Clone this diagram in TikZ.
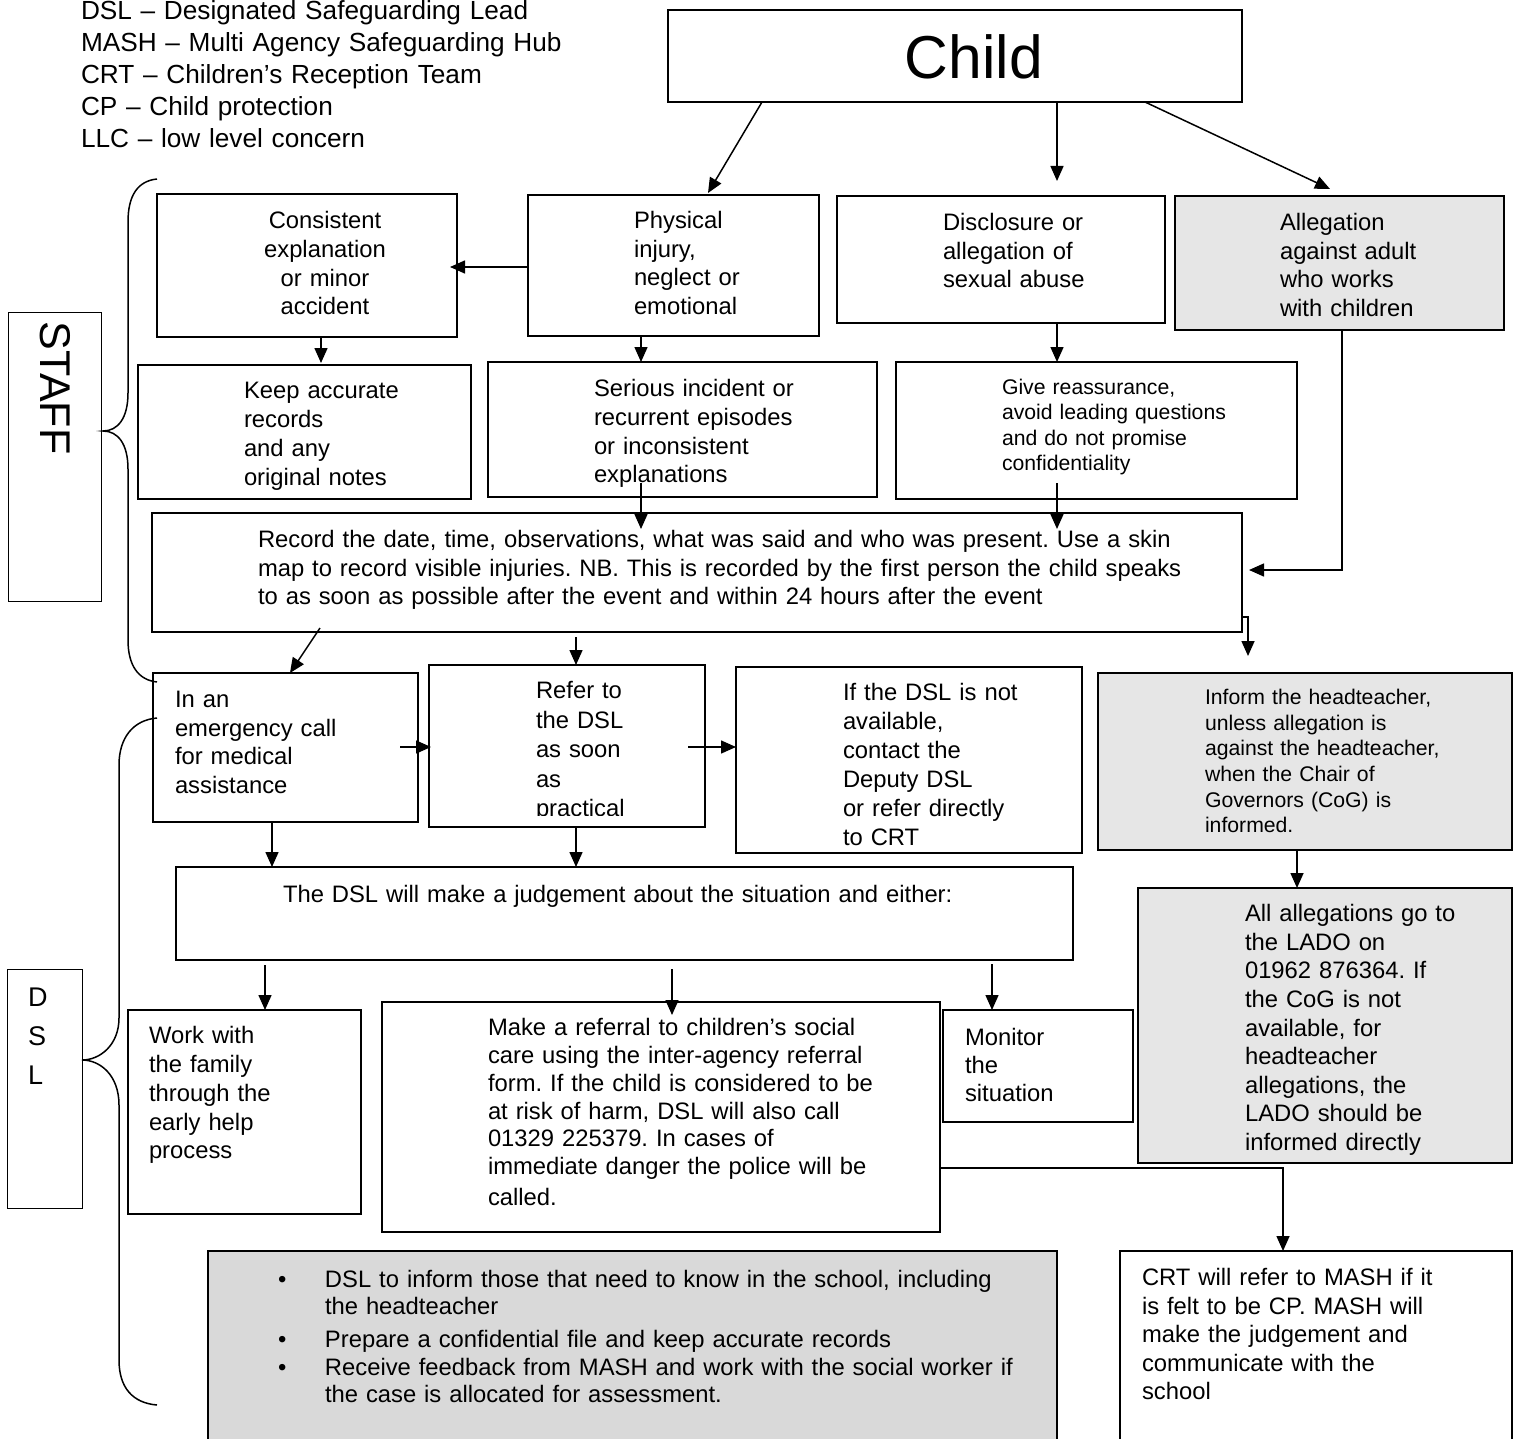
\documentclass[tikz,border=0pt]{standalone}
\usepackage{fontspec}
\setmainfont{Liberation Sans}
\usetikzlibrary{arrows.meta,calc}
\definecolor{boxgray}{HTML}{E6E6E6}
\definecolor{listgray}{HTML}{D9D9D9}
\frenchspacing
\tikzset{
  box/.style={draw, line width=1.8pt, inner sep=0pt, outer sep=0pt, anchor=north west},
  gbox/.style={box, fill=boxgray},
  txt/.style={inner sep=0pt, outer sep=0pt, align=left, anchor=base west, text width=1000pt},
  fsz/.style 2 args={font=\fontsize{#1}{#2}\selectfont},
  arr/.style={line width=1.5pt, -{Triangle[length=15pt,width=13pt]}},
  con/.style={line width=1.5pt},
}
\begin{document}
\begin{tikzpicture}[x=1pt,y=-1pt]
\useasboundingbox (0,0) rectangle (1514,1439);
\fill[white] (0,0) rectangle (1514,1439);

% ---------- legend ----------
\node[txt, fsz={26.2}{32}] (legend) at (81,19.5) {DSL – Designated Safeguarding Lead\\MASH – Multi Agency Safeguarding Hub\\CRT – Children’s Reception Team\\CP – Child protection\\LLC – low level concern};

% ---------- boxes ----------
\node[box, minimum width=574, minimum height=92] (child) at (668,10) {};
\node[box, minimum width=300, minimum height=143] (consist) at (157,194) {};
\node[box, minimum width=291, minimum height=141] (phys) at (528,195) {};
\node[box, minimum width=328, minimum height=127] (disc) at (837,196) {};
\node[gbox, minimum width=329, minimum height=134] (alleg) at (1175,196) {};
\node[box, minimum width=333, minimum height=134] (keep) at (138,365) {};
\node[box, minimum width=389, minimum height=135] (serious) at (488,362) {};
\node[box, minimum width=401, minimum height=137] (give) at (896,362) {};
\node[box, minimum width=1090, minimum height=119] (record) at (152,513) {};
\node[box, minimum width=265, minimum height=149] (emerg) at (153,673) {};
\node[box, minimum width=276, minimum height=162] (refer) at (429,665) {};
\node[box, minimum width=346, minimum height=186] (ifdsl) at (736,667) {};
\node[gbox, minimum width=414, minimum height=177] (inform) at (1098,673) {};
\node[box, minimum width=897, minimum height=93] (judge) at (176,867) {};
\node[box, minimum width=233, minimum height=204] (work) at (128,1010) {};
\node[box, minimum width=558, minimum height=230] (makeref) at (382,1002) {};
\node[box, minimum width=190, minimum height=112] (monitor) at (943,1010) {};
\node[gbox, minimum width=374, minimum height=275] (allalleg) at (1138,888) {};
\node[box, fill=listgray, minimum width=849, minimum height=210] (bullets) at (208,1251) {};
\node[box, minimum width=392, minimum height=210] (crt) at (1120,1251) {};
\node[box, line width=1pt, minimum width=93, minimum height=289] (staff) at (8,312) {};
\node[box, line width=1pt, minimum width=75, minimum height=239] (dslbox) at (7,969) {};

% ---------- texts ----------
\node[fsz={60.6}{66}, inner sep=0pt, anchor=base] (childt) at (974,78.8) {Child};
\node[txt, anchor=base, text width=300pt, align=center, fsz={23.8}{28.7}] (consistt) at (325,228.6) {Consistent\\explanation\\or minor\\accident};
\node[txt, fsz={23.8}{28.5}] (physt) at (634,228.6) {Physical\\injury,\\neglect or\\emotional};
\node[txt, fsz={23.8}{28.5}] (disct) at (943,230.6) {Disclosure or\\allegation of\\sexual abuse};
\node[txt, fsz={23.8}{28.5}] (allegt) at (1280,230.6) {Allegation\\against adult\\who works\\with children};
\node[txt, fsz={23.8}{29}] (keept) at (244,398.6) {Keep accurate\\records\\and any\\original notes};
\node[txt, fsz={23.8}{28.7}] (serioust) at (594,396.6) {Serious incident or\\recurrent episodes\\or inconsistent\\explanations};
\node[txt, fsz={21.2}{25.3}] (givet) at (1002,394.6) {Give reassurance,\\avoid leading questions\\and do not promise\\confidentiality};
\node[txt, fsz={23.8}{28.5}] (recordt) at (258,547.6) {Record the date, time, observations, what was said and who was present. Use a skin\\map to record visible injuries. NB. This is recorded by the first person the child speaks\\to as soon as possible after the event and within 24 hours after the event};
\node[txt, fsz={23.8}{28.5}] (emergt) at (175,707.6) {In an\\emergency call\\for medical\\assistance};
\begin{scope}
\clip (429,665) rectangle (705,815);
\node[txt, fsz={23.8}{29.5}] (refert) at (536,698.6) {Refer to\\the DSL\\as soon\\as\\practical};
\end{scope}
\node[txt, fsz={23.8}{29}] (ifdslt) at (843,700.6) {If the DSL is not\\available,\\contact the\\Deputy DSL\\or refer directly\\to CRT};
\node[txt, fsz={21.2}{25.6}] (informt) at (1205,704.6) {Inform the headteacher,\\unless allegation is\\against the headteacher,\\when the Chair of\\Governors (CoG) is\\informed.};
\node[txt, fsz={23.8}{28.5}] (judget) at (283,902.6) {The DSL will make a judgement about the situation and either:};
\node[txt, fsz={23.8}{28.8}] (workt) at (149,1043.6) {Work with\\the family\\through the\\early help\\process};
\node[txt, fsz={23.8}{27.8}] (makereft) at (488,1035.6) {Make a referral to children’s social\\care using the inter-agency referral\\form. If the child is considered to be\\at risk of harm, DSL will also call\\01329 225379. In cases of\\immediate danger the police will be\\[3pt]called.};
\node[txt, fsz={23.8}{28}] (monitort) at (965,1045.6) {Monitor\\the\\situation};
\node[txt, fsz={23.8}{28.6}] (allallegt) at (1245,921.6) {All allegations go to\\the LADO on\\01962 876364. If\\the CoG is not\\available, for\\headteacher\\allegations, the\\LADO should be\\informed directly};
\node[txt, fsz={23.8}{27.3}] (bulletst) at (278,1287.6) {\makebox[47pt][l]{•}DSL to inform those that need to know in the school, including\\\hspace*{47pt}the headteacher\\[5.5pt]\makebox[47pt][l]{•}Prepare a confidential file and keep accurate records\\\makebox[47pt][l]{•}Receive feedback from MASH and work with the social worker if\\\hspace*{47pt}the case is allocated for assessment.};
\node[txt, fsz={23.8}{28.5}] (crtt) at (1142,1285.6) {CRT will refer to MASH if it\\is felt to be CP. MASH will\\make the judgement and\\communicate with the\\school};
\node[fsz={43}{50}, inner sep=0pt, rotate=-90] (stafft) at (55,388) {STAFF};
\node[txt, fsz={27}{39}] (dslt) at (28,1006.7) {D\\S\\L};

% ---------- connectors ----------
\draw[arr] ($(child.south west)+(94,0)$) -- ($(phys.north west)+(180,-2)$);
\draw[arr] ($(child.south west)+(389,0)$) -- ($(disc.north west)+(220,-15)$);
\draw[arr] ($(child.south west)+(477,0)$) -- ($(alleg.north west)+(155,-7)$);
\draw[arr] ($(phys.north west)+(0,72)$) -- ($(consist.north east)+(-7,73)$);
\draw[arr] ($(consist.south west)+(164,0)$) -- ($(keep.north west)+(183,-2)$);
\draw[arr] ($(phys.south west)+(113,0)$) -- ($(serious.north west)+(153,0)$);
\draw[arr] ($(disc.south west)+(220,0)$) -- ($(give.north west)+(161,0)$);
\draw[arr] ($(serious.south west)+(153,-14)$) -- ($(record.north west)+(489,16)$);
\draw[arr] ($(give.south west)+(161,-16)$) -- ($(record.north west)+(905,16)$);
\draw[arr] ($(alleg.south west)+(167,0)$) |- ($(record.north east)+(7,57)$);
\draw[arr] ($(record.south east)+(0,-15)$) -- ++(6,0) -- ($(inform.north west)+(150,-17)$);
\draw[arr] ($(record.south west)+(168,-4)$) -- ($(emerg.north west)+(137,0)$);
\draw[arr] ($(record.south west)+(424,5)$) -- ($(refer.north west)+(147,0)$);
\draw[arr] ($(emerg.north east)+(-18,74)$) -- ($(refer.north west)+(2,82)$);
\draw[arr] ($(refer.north east)+(-17,82)$) -- ($(ifdsl.north west)+(0,80)$);
\draw[arr] ($(emerg.south west)+(119,0)$) -- ($(judge.north west)+(96,0)$);
\draw[arr] ($(refer.south west)+(147,0)$) -- ($(judge.north west)+(400,0)$);
\draw[arr] ($(inform.south west)+(199,0)$) -- ($(allalleg.north west)+(159,0)$);
\draw[arr] ($(judge.south west)+(89,5)$) -- ($(work.north west)+(137,0)$);
\draw[arr] ($(judge.south west)+(496,9)$) -- ($(makeref.north west)+(290,13)$);
\draw[arr] ($(judge.south west)+(816,4)$) -- ($(monitor.north west)+(49,0)$);
\draw[arr] ($(makeref.north east)+(0,166)$) -| ($(crt.north west)+(163,0)$);

% ---------- braces ----------
\draw[con] (157,179) .. controls (138,181) and (128,195) .. (128,222) -- (128,393) .. controls (128,418) and (118,431) .. (103,431) .. controls (118,431) and (128,444) .. (128,469) -- (128,640) .. controls (128,665) and (138,680) .. (157,682);
\draw[con] (157,718) .. controls (133,720) and (119,738) .. (119,765) -- (119,1018) .. controls (119,1045) and (100,1060) .. (82,1060) .. controls (100,1060) and (119,1075) .. (119,1105) -- (119,1360) .. controls (119,1388) and (133,1403) .. (157,1405);
\end{tikzpicture}
\end{document}
